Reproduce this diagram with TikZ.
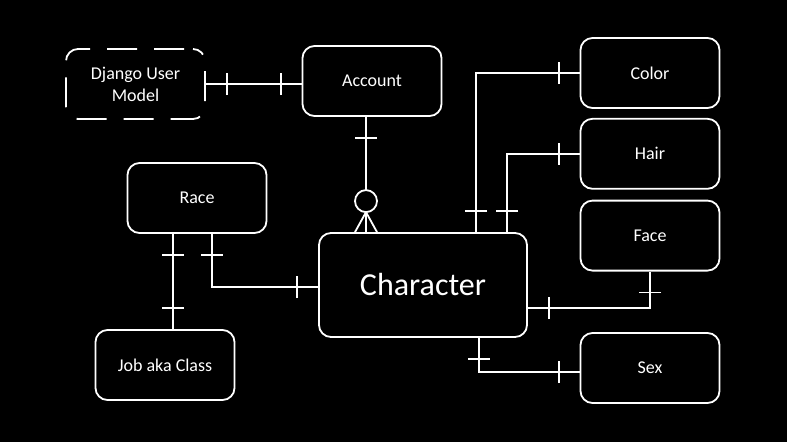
\documentclass[tikz,border=0pt]{standalone}
\usepackage{fontspec}
\setmainfont{Carlito}
\usetikzlibrary{positioning,decorations.markings}

\begin{document}
\begin{tikzpicture}[x=1pt,y=-1pt,line width=1.8pt,white,
  entity/.style={rectangle,rounded corners=12pt,draw=white,fill=black,text=white,
    minimum width=139pt,minimum height=70pt,inner sep=0pt,font=\fontsize{18}{22}\selectfont},
  weak entity/.style={entity,dash pattern=on 30pt off 17pt,dash phase=-9pt,align=center},
  one to one/.style={postaction={decorate,decoration={markings,
    mark=at position 21pt with {\draw (0,-11pt) -- (0,11pt);},
    mark=at position -21pt with {\draw (0,-11pt) -- (0,11pt);}}}},
  one to many/.style={postaction={decorate,decoration={markings,
    mark=at position 21pt with {\draw (0,-11pt) -- (0,11pt);},
    mark=at position -31pt with {\draw[fill=black] (0,0) circle (11pt);},
    mark=at position -20pt with {\draw (0,0) -- (20pt,11pt) (0,0) -- (20pt,0) (0,0) -- (20pt,-11pt);}}}}]

  \fill[black] (0,0) rectangle (787,442);
  \useasboundingbox (0,0) rectangle (787,442);

  \node[entity,minimum width=208pt,minimum height=104pt,font=\fontsize{32}{36}\selectfont] (character) at (423,285) {Character};
  \node[entity] (account) at (372,81) {Account};
  \node[weak entity] (django) at (135.5,84) {Django User\\Model};
  \node[entity] (race) at (197,198) {Race};
  \node[entity] (job) at (165,365) {Job aka Class};
  \node[entity] (color) at (650,73) {Color};
  \node[entity] (hair) [below=9pt of color] {Hair};
  \node[entity] (face) [below=10pt of hair] {Face};
  \node[entity] (sex) at (650,368) {Sex};

  % relations
  \draw[one to one] (django.east) -- (django.east -| account.west);
  \draw[one to many] ([xshift=-6pt]account.south) -- ([xshift=-6pt]account.south |- character.north);
  \draw[one to one] ([xshift=-24pt]race.south) -- ([xshift=-24pt]race.south |- job.north);
  \draw[one to one] ([xshift=15pt]race.south) |- ([yshift=-2pt]character.west);
  \draw[one to one] ([xshift=53pt]character.north) |- (color.west);
  \draw[one to one] ([xshift=84pt]character.north) |- (hair.west);
  \draw[one to one] ([yshift=-23pt]character.east) -| (face.south);
  \draw[one to one] ([xshift=56pt]character.south) |- ([yshift=-4pt]sex.west);
\end{tikzpicture}
\end{document}
